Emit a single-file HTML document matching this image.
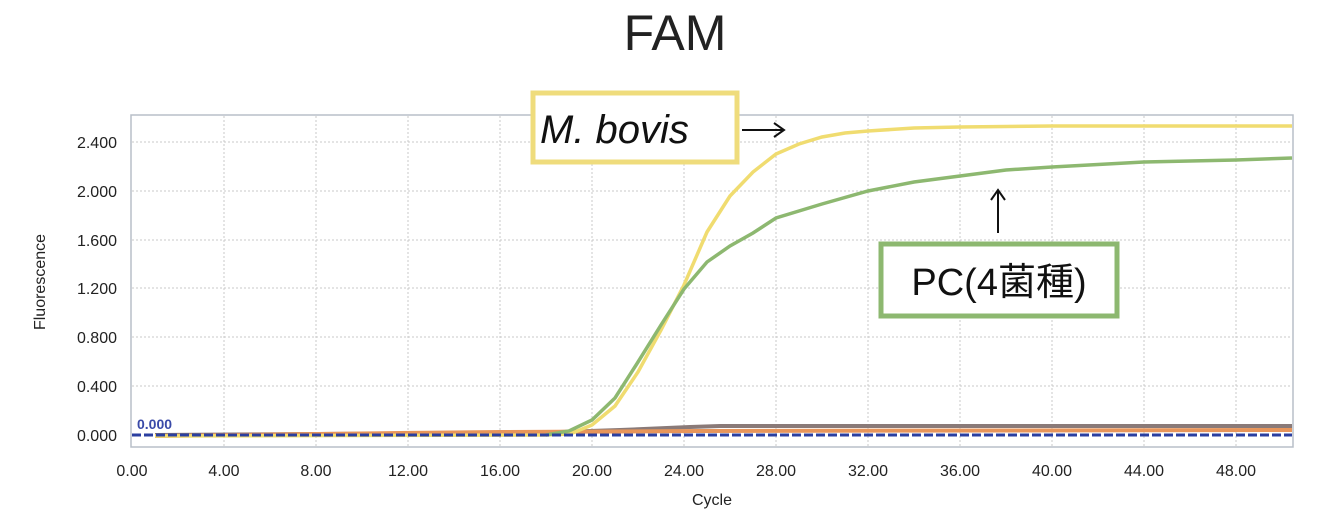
<!DOCTYPE html><html><head><meta charset="utf-8"><style>body{margin:0;background:#fff;width:1317px;height:517px;overflow:hidden}</style></head><body>
<svg width="1317" height="517" xmlns="http://www.w3.org/2000/svg" font-family="Liberation Sans, DejaVu Sans, sans-serif">
<text x="675" y="50" font-size="50" text-anchor="middle" fill="#222">FAM</text>
<rect x="131" y="115" width="1162" height="332" fill="#fff" stroke="#b8bfc8" stroke-width="1.5"/>
<g stroke="#c8c8c8" stroke-dasharray="2,2" stroke-width="1">
<line x1="132" y1="386" x2="1292" y2="386"/><line x1="132" y1="337" x2="1292" y2="337"/><line x1="132" y1="288" x2="1292" y2="288"/><line x1="132" y1="240" x2="1292" y2="240"/><line x1="132" y1="191" x2="1292" y2="191"/><line x1="132" y1="142" x2="1292" y2="142"/>
<line x1="224" y1="116" x2="224" y2="446"/><line x1="316" y1="116" x2="316" y2="446"/><line x1="408" y1="116" x2="408" y2="446"/><line x1="500" y1="116" x2="500" y2="446"/><line x1="592" y1="116" x2="592" y2="446"/><line x1="684" y1="116" x2="684" y2="446"/><line x1="776" y1="116" x2="776" y2="446"/><line x1="868" y1="116" x2="868" y2="446"/><line x1="960" y1="116" x2="960" y2="446"/><line x1="1052" y1="116" x2="1052" y2="446"/><line x1="1144" y1="116" x2="1144" y2="446"/><line x1="1236" y1="116" x2="1236" y2="446"/>
</g>
<g font-size="16" fill="#222" text-anchor="end">
<text x="117" y="441">0.000</text><text x="117" y="392">0.400</text><text x="117" y="343">0.800</text><text x="117" y="294">1.200</text><text x="117" y="246">1.600</text><text x="117" y="197">2.000</text><text x="117" y="148">2.400</text>
</g>
<g font-size="16" fill="#222" text-anchor="middle">
<text x="132" y="476">0.00</text><text x="224" y="476">4.00</text><text x="316" y="476">8.00</text><text x="408" y="476">12.00</text><text x="500" y="476">16.00</text><text x="592" y="476">20.00</text><text x="684" y="476">24.00</text><text x="776" y="476">28.00</text><text x="868" y="476">32.00</text><text x="960" y="476">36.00</text><text x="1052" y="476">40.00</text><text x="1144" y="476">44.00</text><text x="1236" y="476">48.00</text>
<text x="712" y="505">Cycle</text>
</g>
<text transform="translate(45,282) rotate(-90)" font-size="16" fill="#222" text-anchor="middle">Fluorescence</text>
<polyline fill="none" stroke="#8a7a78" stroke-width="4" points="155,435 500,433 560,432 620,430 690,427 720,426 1292,426"/>
<polyline fill="none" stroke="#e8955a" stroke-width="4" points="155,436 400,433 500,432 700,431 1292,430"/>
<polyline fill="none" stroke="#f0dc70" stroke-width="3.5" points="155,436 546,435 570,434 592,425 615,406 638,372 661,330 684,285 707,232 730,196 753,172 776,154 799,144 822,137 845,133 868,131 914,128 960,127 1052,126 1292,126"/>
<polyline fill="none" stroke="#8db870" stroke-width="3.5" points="546,435 569,431 592,420 615,398 638,362 661,325 684,289 707,262 730,246 753,233 776,218 822,204 868,191 914,182 960,176 1006,170 1052,167 1144,162 1236,160 1292,158"/>
<line x1="132" y1="435" x2="1292" y2="435" stroke="#2b3fa0" stroke-width="3" stroke-dasharray="9,3"/>
<text x="137" y="429" font-size="14" font-weight="bold" fill="#3a4aa8">0.000</text>
<rect x="533" y="93" width="204" height="69" fill="#fff" stroke="#efdc7c" stroke-width="5"/>
<text x="540" y="143" font-size="40" font-style="italic" fill="#111">M. bovis</text>
<g stroke="#111" stroke-width="2" fill="none">
<line x1="742" y1="130" x2="784" y2="130"/><polyline points="774,123 784,130 774,137"/>
<line x1="998" y1="190" x2="998" y2="233"/><polyline points="991,200 998,190 1005,200"/>
</g>
<rect x="881" y="244" width="236" height="72" fill="#fff" stroke="#8db870" stroke-width="5"/>
<text x="999" y="295" font-size="38" fill="#111" text-anchor="middle" font-family="Liberation Sans, Noto Sans CJK JP, sans-serif">PC(4菌種)</text>
</svg></body></html>
